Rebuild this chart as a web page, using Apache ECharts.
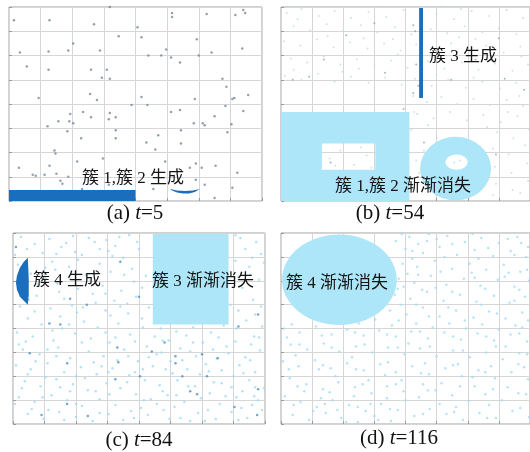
<!DOCTYPE html>
<html>
<head>
<meta charset="utf-8">
<script src="https://cdn.jsdelivr.net/npm/echarts@6/dist/echarts.min.js"></script>
<style>
html, body { margin: 0; padding: 0; background: #fff; }
#main { width: 530px; height: 452px; }
</style>
</head>
<body>
<div id="main"></div>
<script>
// Stream-clustering snapshots: four panels on a 0..256 x 0..192 plane.
const panelTags = ['a', 'b', 'c', 'd'];
const panelTimes = [5, 54, 84, 116];

// (a) t=5: background noise points
const noiseA = [
  [5,179],[41,179],[86,175],[102,192],[165,186],[165,182],[200,185],[229,184],[237,189],[239,186],
  [130,172],[134,162],[111,163],[65,156],[60,149],[40,148],[11,147],[92,149],[141,144],[154,144],
  [159,150],[164,142],[190,160],[192,144],[205,147],[236,151],[173,137],[18,133],[40,130],[83,130],
  [99,130],[94,122],[102,121],[216,121],[220,113],[242,105],[30,102],[82,106],[89,100],[134,103],
  [124,95],[140,95],[188,101],[226,101],[219,94],[164,88],[173,90],[237,89],[62,86],[75,88],
  [83,83],[102,87],[101,81],[108,83],[50,79],[61,79],[65,77],[39,74],[59,69],[108,70],
  [108,62],[73,62],[151,65],[139,58],[174,70],[187,77],[196,77],[198,75],[208,84],[221,68],
  [225,76],[174,57],[148,51],[46,50],[47,47],[69,39],[95,42],[41,35],[10,33],[24,26],
  [27,25],[36,26],[48,27],[52,20],[54,17],[60,24],[74,12],[101,16],[146,12],[158,39],
  [183,33],[189,37],[209,35],[195,33],[189,21],[198,16],[208,3],[226,13],[231,28],[228,102]
];
// (a) cluster 1 (flat bar) and cluster 2 (thin arc) outlines
const cluster1A = [[0,0],[128,0],[128,11],[0,11]];
const cluster2A = [[163,12],[170,10.5],[178,10],[186,10.5],[193,12],[188,9],[182,7.5],[176,7.5],[170,8.5],[165,10.5]];

// (b) t=54: faint noise and a few denser points
const noiseBFaint = [
  [6,186],[21,190],[39,183],[55,188],[72,181],[90,187],[108,182],[126,189],[160,185],[178,180],
  [196,188],[214,183],[232,189],[249,181],[13,173],[30,169],[47,175],[64,168],[82,174],[99,167],
  [117,172],[134,165],[154,170],[171,166],[189,173],[207,167],[224,171],[242,165],[3,158],[20,154],
  [37,160],[54,152],[71,157],[89,151],[106,156],[123,149],[139,155],[158,150],[175,156],[193,148],
  [211,154],[229,147],[246,153],[10,141],[27,137],[44,143],[61,135],[78,140],[96,134],[113,139],
  [130,132],[151,138],[168,131],[186,137],[203,130],[220,136],[238,129],[254,135],[4,124],[21,120],
  [38,126],[55,118],[72,123],[90,117],[107,122],[124,115],[138,121],[155,114],[172,120],[190,112],
  [207,118],[225,111],[242,117],[136,104],[150,98],[165,103],[181,96],[198,101],[215,95],[232,100],
  [249,94],[140,86],[157,82],[174,88],[191,80],[208,85],[226,78],[243,84],[134,70],[151,75],
  [222,68],[239,62],[255,71],[218,52],[234,46],[251,55],[220,34],[237,28],[253,37],[221,17],
  [238,11],[254,20],[136,12],[139,40],[50,42],[61,50],[75,36],[88,45],[93,33],[56,35],
  [82,53],[178,38],[184,40],[17,180],[85,161],[120,145],[200,160],[63,128],[245,104],[160,62],
  [147,50],[142,28],[218,6],[33,193],[101,192],[165,192],[185,190],[48,163],[115,160],[183,162],
  [216,142],[247,143],[13,130],[80,131],[160,125],[198,122],[233,88],[212,73],[246,8],[137,88]
];
const noiseBDark = [
  [44,140],[12,120],[29,123],[67,164],[107,127],[136,174],[138,168],[139,135],[141,114],[136,107],
  [126,91],[147,58],[221,46],[230,121],[224,161],[51,38],[175,120],[96,176],[200,140],[250,110]
];
// (b) cluster 3 (vertical strip), fading cluster 1 (block with a gap), fading cluster 2 (ring)
const cluster3B = [[142,102],[146,102],[146,191],[142,191]];
const fade1Outer = [[0,0],[132,0],[132,88],[0,88]];
const fade1Inner = [[42,31],[97,31],[97,57],[42,57]];
const fade2Outer = [179.5, 32, 36.5, 31.5];   // cx, cy, rx, ry
const fade2Inner = [180.5, 38.5, 11.5, 7.5];

// (c) t=84: noise points
const noiseCLight = [
  [8,188],[37,186],[61,189],[95,185],[118,190],[231,187],[247,183],[22,181],[49,178],[83,183],
  [104,179],[128,176],[236,176],[252,171],[30,172],[70,170],[112,167],[226,164],[5,160],[40,163],
  [57,158],[88,161],[121,156],[240,158],[18,151],[33,147],[74,150],[99,153],[135,149],[229,148],
  [250,145],[11,139],[45,141],[66,136],[91,139],[110,134],[233,137],[24,129],[52,126],[81,131],
  [103,124],[125,128],[244,125],[221,120],[7,118],[38,116],[60,119],[94,114],[117,111],[138,117],
  [150,96],[166,93],[183,97],[201,92],[214,99],[237,104],[253,98],[15,106],[29,100],[48,108],
  [72,103],[86,97],[107,101],[131,106],[144,88],[158,84],[176,89],[193,82],[209,87],[226,83],
  [245,88],[4,92],[20,88],[41,84],[63,91],[79,86],[98,82],[119,90],[136,78],[151,72],
  [170,76],[186,68],[203,75],[219,71],[236,67],[251,74],[10,75],[27,70],[46,77],[58,66],
  [77,73],[92,68],[113,75],[127,63],[142,58],[160,63],[177,55],[196,60],[212,54],[230,59],
  [246,52],[3,59],[18,55],[35,61],[52,52],[69,57],[85,50],[101,56],[118,49],[134,44],
  [149,39],[167,44],[185,38],[204,42],[222,37],[240,44],[255,36],[12,43],[28,38],[44,45],
  [61,40],[76,34],[95,41],[109,36],[125,30],[140,25],[157,29],[174,22],[191,26],[210,20],
  [227,27],[243,19],[6,27],[22,22],[39,29],[55,24],[70,18],[88,25],[104,19],[120,13],
  [137,9],[153,14],[170,6],[188,11],[206,5],[222,12],[238,6],[253,14],[15,10],[31,5],
  [47,12],[64,7],[81,3],[97,10],[112,4],[130,16],[146,20],[164,17],[180,3],[198,14],
  [216,28],[233,33],[249,24],[2,20],[36,14],[58,33],[73,46],[90,58],[106,64],[124,52],
  [138,67],[155,55],[172,64],[190,50],[207,66],[224,48],[242,80],[13,83],[50,96],[65,112],
  [84,122],[99,109],[116,121],[132,97],[229,114],[246,110],[25,140],[43,155],[63,173],[79,144],
  [101,169],[123,143],[241,150],[218,130],[2,170],[54,182],[88,176],[108,188],[226,190],[255,162],
  [14,176],[44,171],[77,187],[97,174],[126,183],[243,167],[33,157],[66,165],[113,150],[4,144],
  [58,146],[94,131],[131,137],[16,125],[47,133],[71,117],[109,118],[252,118],[215,110],[22,113],
  [40,94],[57,100],[94,92],[124,83],[160,105],[190,104],[227,96],[6,80],[35,75],[70,82],
  [104,87],[152,84],[183,82],[217,78],[250,87],[23,63],[44,68],[82,62],[117,68],[146,70],
  [180,73],[241,64],[15,50],[33,47],[64,48],[97,52],[132,55],[162,51],[199,53],[234,51],
  [9,36],[48,37],[84,33],[116,42],[152,33],[178,38],[212,41],[246,37],[30,27],[64,20],
  [98,30],[133,24],[166,29],[200,31],[232,16],[19,15],[52,4],[88,11],[123,6],[159,5],
  [195,3],[229,4],[245,28]
];
const noiseCDark = [
  [109,163],[58,126],[75,120],[37,101],[48,100],[128,128],[106,77],[55,61],[107,62],[154,82],
  [165,68],[165,61],[192,70],[208,66],[129,48],[172,48],[197,48],[180,33],[187,30],[225,17],
  [249,35],[29,9],[76,8],[55,20],[248,9],[229,98],[249,110],[3,178],[104,45],[141,73],[17,71]
];
// (c) cluster 4 (crescent) and fading cluster 3 (block)
const cluster4C = [[15,167],[11,163],[7,157],[4,149],[3,142],[4,135],[7,128],[11,124],[15,120],[16,130],[16,145],[15.5,158]];
const fade3C = [[142,100],[219,100],[219,191],[142,191]];

// (d) t=116: noise points
const noiseDLight = [
  [132,188],[150,184],[171,189],[189,183],[206,187],[224,182],[243,188],[128,176],[146,172],[163,178],
  [181,170],[199,175],[218,169],[236,174],[252,168],[125,161],[140,158],[158,164],[176,156],[194,161],
  [211,155],[229,160],[246,153],[121,146],[137,142],[154,149],[170,140],[188,146],[205,139],[223,145],
  [240,138],[255,144],[117,130],[133,126],[150,133],[167,124],[184,130],[201,123],[219,129],[235,122],
  [251,128],[112,114],[129,110],[146,117],[163,108],[180,114],[198,107],[214,113],[231,106],[248,112],
  [3,96],[19,92],[36,98],[52,90],[68,95],[85,89],[101,94],[118,88],[134,93],[151,86],
  [168,92],[185,85],[202,91],[219,84],[236,90],[253,83],[10,80],[27,75],[44,81],[60,73],
  [77,78],[94,72],[110,77],[127,70],[143,76],[160,68],[177,74],[194,67],[211,72],[228,65],
  [245,71],[2,63],[18,58],[35,64],[51,56],[68,61],[85,54],[102,60],[118,52],[135,58],
  [152,50],[169,56],[186,48],[203,54],[220,46],[237,52],[254,45],[9,46],[26,40],[43,35],
  [59,42],[76,37],[93,31],[109,38],[126,33],[142,27],[159,34],[176,29],[193,23],[210,30],
  [227,24],[244,31],[4,28],[20,22],[37,17],[53,24],[70,19],[87,13],[103,20],[120,14],
  [137,8],[153,15],[170,10],[187,4],[204,11],[221,6],[238,13],[255,7],[12,9],[29,4],
  [46,11],[62,6],[79,2],[96,8],[113,3],[6,87],[30,107],[47,104],[64,108],[80,101],
  [97,105],[114,99],[139,101],[156,97],[173,101],[190,96],[207,100],[224,95],[241,99],[15,69],
  [39,55],[56,48],[73,67],[90,44],[107,49],[124,44],[131,81],[148,61],[165,41],[182,60],
  [199,38],[216,58],[233,37],[250,57],[24,33],[41,26],[58,14],[75,28],[92,20],[109,26],
  [146,40],[163,20],[180,17],[197,47],[214,19],[231,78],[248,97],[123,120],[141,150],[159,137],
  [176,181],[196,152],[213,177],[230,148],[247,182],[120,136],[118,184],[135,174],[152,191],[253,155],
  [124,191],[141,181],[160,186],[197,191],[233,186],[254,178],[135,166],[168,168],[203,166],[240,170],
  [130,151],[164,153],[199,147],[234,152],[126,138],[145,135],[176,133],[210,136],[245,135],[139,120],
  [172,117],[206,120],[240,124],[121,104],[152,108],[189,104],[222,111],[254,104],[11,100],[42,89],
  [76,92],[109,90],[143,93],[177,88],[211,88],[245,91],[19,80],[52,77],[86,80],[120,77],
  [153,78],[187,74],[221,78],[253,70],[8,55],[43,59],[77,55],[110,62],[144,51],[177,59],
  [210,52],[244,60],[17,38],[50,32],[84,40],[118,40],[151,34],[184,38],[218,35],[252,30],
  [13,19],[45,20],[79,17],[112,15],[128,24],[146,10],[178,12],[212,6],[246,16],[33,13],
  [67,2],[100,4]
];
// (d) fading cluster 4 (ellipse)
const fade4D = [60, 145, 59, 45.5];   // cx, cy, rx, ry

// Label texts
const labelsA = ['簇 1,簇 2 生成'];
const labelsB = ['簇 3 生成', '簇 1,簇 2 渐渐消失'];
const labelsC = ['簇 4 生成', '簇 3 渐渐消失'];
const labelsD = ['簇 4 渐渐消失'];

// ---------- styling ----------
const DARK = '#1b6ebb';
const LIGHT = '#ade6f8';
const CJK_FONT = '17px "Liberation Serif", "Noto Sans CJK SC"';
const CAP_FONT = '"Liberation Serif"';

const grids = [
  { left: 9,   top: 7,   width: 253, height: 194 },
  { left: 281, top: 7,   width: 253, height: 194 },
  { left: 13,  top: 233, width: 252, height: 191 },
  { left: 281, top: 233, width: 253, height: 191 }
].map(g => Object.assign(g, { show: true, borderColor: '#a3a3a3', borderWidth: 1 }));

function axis(i, max, step) {
  return {
    gridIndex: i, type: 'value', min: 0, max: max, interval: step,
    axisLabel: { show: false },
    axisLine: { show: false },
    axisTick: { show: true, inside: true, length: 3, lineStyle: { color: '#9a9a9a' } },
    splitLine: { show: true, lineStyle: { color: '#d6d6d6', width: 1 } }
  };
}

function scatter(i, data, color, size) {
  return {
    type: 'scatter', xAxisIndex: i, yAxisIndex: i, data: data,
    symbolSize: size, itemStyle: { color: color }, silent: true, z: 2
  };
}

function toPath(pts) {
  return 'M' + pts.map(p => p[0].toFixed(2) + ' ' + p[1].toFixed(2)).join(' L') + ' Z';
}

function ellipsePath(c, r, sweep) {
  const x0 = c[0] - r[0], x1 = c[0] + r[0], y = c[1];
  return `M${x0} ${y} A${r[0]} ${r[1]} 0 1 ${sweep} ${x1} ${y} A${r[0]} ${r[1]} 0 1 ${sweep} ${x0} ${y} Z`;
}

function polygonSeries(i, pts, color) {
  return {
    type: 'custom', xAxisIndex: i, yAxisIndex: i, silent: true, z: 3,
    data: [pts[0]],
    renderItem: (p, api) => ({
      type: 'polygon',
      shape: { points: pts.map(v => api.coord(v)) },
      style: { fill: color }
    })
  };
}

function holedPolygonSeries(i, outer, inner, color) {
  return {
    type: 'custom', xAxisIndex: i, yAxisIndex: i, silent: true, z: 3,
    data: [outer[0]],
    renderItem: (p, api) => ({
      type: 'path',
      shape: { pathData: toPath(outer.map(v => api.coord(v))) + ' ' +
                         toPath(inner.slice().reverse().map(v => api.coord(v))) },
      style: { fill: color }
    })
  };
}

function ellipseSeries(i, e, hole, color) {
  return {
    type: 'custom', xAxisIndex: i, yAxisIndex: i, silent: true, z: 3,
    data: [[e[0], e[1]]],
    renderItem: (p, api) => {
      let d = ellipsePath(api.coord([e[0], e[1]]), api.size([e[2], e[3]]), 1);
      if (hole) d += ' ' + ellipsePath(api.coord([hole[0], hole[1]]), api.size([hole[2], hole[3]]), 0);
      return { type: 'path', shape: { pathData: d }, style: { fill: color } };
    }
  };
}

function label(text, x, y) {
  return {
    type: 'text', x: x, y: y, z: 100, silent: true,
    style: { text: text, font: CJK_FONT, fill: '#151515', align: 'left', verticalAlign: 'middle' }
  };
}

function caption(i, x, y) {
  return {
    type: 'text', x: x, y: y, z: 100, silent: true,
    style: {
      text: '(' + panelTags[i] + ') {i|t}=' + panelTimes[i],
      fontSize: 21, fontFamily: CAP_FONT, fill: '#111',
      align: 'center', verticalAlign: 'middle',
      rich: { i: { fontSize: 21, fontFamily: CAP_FONT, fontStyle: 'italic', fill: '#111' } }
    }
  };
}

const option = {
  animation: false,
  backgroundColor: '#ffffff',
  grid: grids,
  xAxis: [0, 1, 2, 3].map(i => axis(i, 256, 32)),
  yAxis: [0, 1, 2, 3].map(i => axis(i, 192, 24)),
  series: [
    scatter(0, noiseA, '#7b8896', 2.5),
    polygonSeries(0, cluster1A, DARK),
    polygonSeries(0, cluster2A, DARK),

    scatter(1, noiseBFaint, '#c3d9e6', 2),
    scatter(1, noiseBDark, '#8fa4b6', 2),
    holedPolygonSeries(1, fade1Outer, fade1Inner, LIGHT),
    ellipseSeries(1, fade2Outer, fade2Inner, LIGHT),
    polygonSeries(1, cluster3B, DARK),

    scatter(2, noiseCLight, '#9fdbf5', 2.5),
    scatter(2, noiseCDark, '#4f90c9', 2.5),
    polygonSeries(2, fade3C, LIGHT),
    polygonSeries(2, cluster4C, DARK),

    scatter(3, noiseDLight, '#a3dcf5', 2.5),
    ellipseSeries(3, fade4D, null, LIGHT)
  ],
  graphic: [
    label(labelsA[0], 82, 179),
    label(labelsB[0], 429, 57),
    label(labelsB[1], 335, 187),
    label(labelsC[0], 33, 281),
    label(labelsC[1], 152, 282),
    label(labelsD[0], 286, 284),
    caption(0, 135, 213),
    caption(1, 390, 213),
    caption(2, 139, 440),
    caption(3, 399, 438)
  ]
};

const chart = echarts.init(document.getElementById('main'), null, { renderer: 'canvas' });
chart.setOption(option);
</script>
</body>
</html>
